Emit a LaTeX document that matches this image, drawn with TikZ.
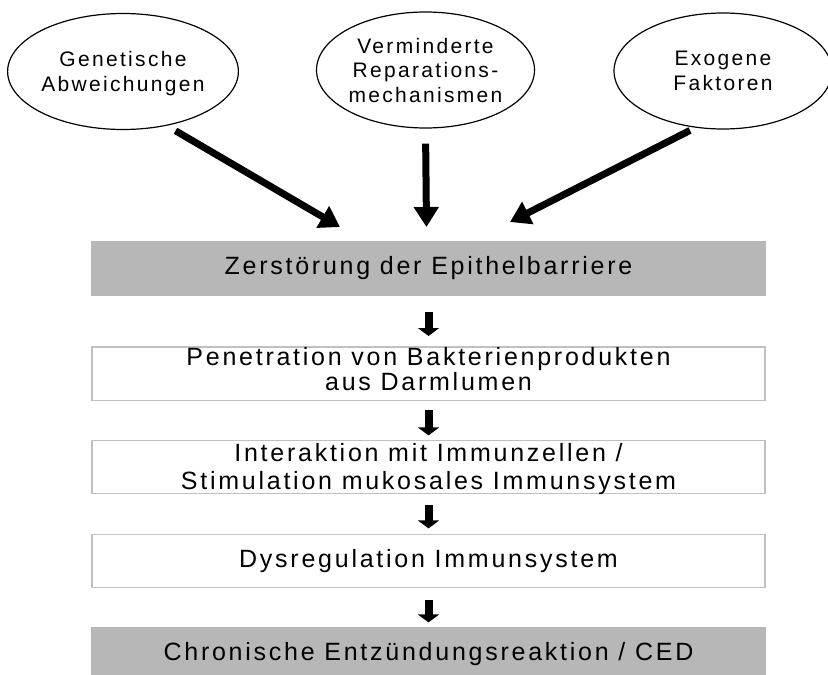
\documentclass[tikz,border=0pt]{standalone}
\usepackage{fontspec}
\usepackage{tikz}
\usetikzlibrary{shapes.geometric,arrows.meta,positioning}
\usepackage{xcolor}
\newfontfamily\flowfont[LetterSpace=11]{Liberation Sans}
\newfontfamily\ovalfont[LetterSpace=11]{Liberation Sans}
\definecolor{barrier}{RGB}{183,183,183}
\definecolor{rahmen}{RGB}{192,192,192}
\tikzset{
  cause/.style={ellipse, draw=black, line width=0.6pt, minimum width=109pt,
    minimum height=58pt, inner sep=0pt, align=center, text depth=0pt,
    font=\ovalfont\fontsize{10.5}{12.25}\selectfont},
  stage/.style={rectangle, draw=rahmen, line width=0.75pt, fill=white,
    minimum width=336.5pt, minimum height=26.5pt, inner sep=0pt, outer sep=0pt,
    align=center, font=\flowfont\fontsize{12.5}{11}\selectfont},
  keystage/.style={stage, fill=barrier, draw=barrier},
  bigarrow/.style={line width=3.5pt, -{Triangle[width=12pt,length=10pt]}},
  smallarrow/.style={line width=4pt, -{Triangle[width=10.5pt,length=4pt]}}
}

\begin{document}
\begin{tikzpicture}[x=0.5pt,y=-0.5pt]
\useasboundingbox (0,0) rectangle (828,674);
% Ursachen
\node[cause] (gen) at (123,71.5) {Genetische\\Abweichungen};
\node[cause] (rep) at (425.5,70) {Verminderte\\Reparations-\\mechanismen};
\node[cause] (exo) at (723,71) {Exogene\\Faktoren};
% Kaskade
\node[keystage] (epi) at (428.5,268.5) {Zerstörung der Epithelbarriere};
\node[stage, text depth=5pt, below=26pt of epi] (pen)
  {Penetration von Bakterienprodukten\\aus Darmlumen};
\node[stage, text depth=0pt, font=\flowfont\fontsize{12.5}{14}\selectfont,
  below=20pt of pen] (imm)
  {Interaktion mit Immunzellen /\\Stimulation mukosales Immunsystem};
\node[stage, below=20.5pt of imm] (dys) {Dysregulation Immunsystem};
\node[keystage, below=20pt of dys] (ced) {Chronische Entzündungsreaktion / CED};
% Pfeile
\coordinate (tipL) at (340,227);
\coordinate (tipM) at (426.5,227);
\coordinate (tipR) at (510,222);
\draw[bigarrow, shorten <=5pt] (gen.-51) -- (tipL);
\draw[bigarrow, shorten <=7.5pt] (rep.south) -- (tipM);
\draw[bigarrow, shorten <=3pt] (exo.-116) -- (tipR);
\draw[smallarrow, shorten <=8.5pt, shorten >=5.5pt] (epi) -- (pen);
\draw[smallarrow, shorten <=5pt, shorten >=2.5pt] (pen) -- (imm);
\draw[smallarrow, shorten <=6pt, shorten >=3pt] (imm) -- (dys);
\draw[smallarrow, shorten <=6.5pt, shorten >=2.5pt] (dys) -- (ced);
\end{tikzpicture}
\end{document}
